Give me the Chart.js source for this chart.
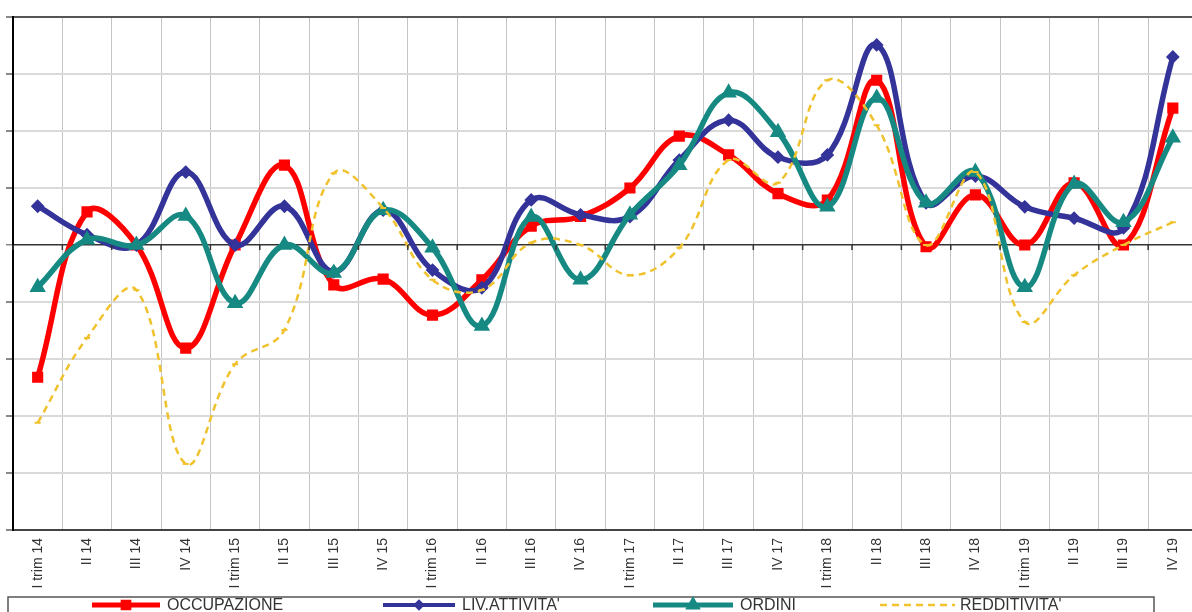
<!DOCTYPE html>
<html><head><meta charset="utf-8">
<script src="https://cdn.jsdelivr.net/npm/chart.js@4.4.1/dist/chart.umd.min.js"></script>
<style>html,body{margin:0;padding:0;background:#fff;overflow:hidden}#wrap{width:1207px;height:612px;position:relative}</style>
</head><body><div id="wrap"><canvas id="c"></canvas></div>
<script>
const categories = ["I trim 14","II 14","III 14","IV 14","I trim 15","II 15","III 15","IV 15","I trim 16","II 16","III 16","IV 16","I trim 17","II 17","III 17","IV 17","I trim 18","II 18","III 18","IV 18","I trim 19","II 19","III 19","IV 19"];
const occupazione = [-23.2, 5.8, 0, -18.1, 0, 14, -7, -6, -12.3, -6.1, 3.3, 5, 10, 19.1, 15.8, 9, 7.9, 28.9, -0.3, 8.8, 0, 10.9, 0, 24];
const livAttivita = [6.8, 1.8, 0, 12.8, 0, 6.8, -4.7, 6.1, -4.4, -7.5, 7.9, 5.3, 5, 14.9, 21.9, 15.4, 15.8, 35.1, 7.4, 12.1, 6.7, 4.7, 3, 33];
const ordini = [-7.4, 0.9, 0, 5.1, -10.2, 0, -4.9, 6.1, -0.5, -14.2, 4.9, -6.1, 5.3, 14, 26.7, 19.8, 6.7, 25.8, 7.4, 12.8, -7.4, 10.7, 4, 18.8];
const redditivita = [-31.2, -16.3, -7.9, -38.4, -20.9, -14.9, 12.6, 6.5, -6.1, -7.9, 0.4, 0, -5.3, -0.5, 14.9, 10.9, 28.9, 21, 0, 12.8, -13.5, -5.3, 0, 4];
const seriesNames = ["OCCUPAZIONE", "LIV.ATTIVITA'", "ORDINI", "REDDITIVITA'"];
const yMin = -50, yMax = 40, yStep = 10;

const colors = ['#ff0000', '#333399', '#168a82', '#f0c22e'];

const extras = {
  id: 'extras',
  afterDraw(chart) {
    const ctx = chart.ctx, xs = chart.scales.x, ys = chart.scales.y;
    const y0 = ys.getPixelForValue(0);
    ctx.save();
    ctx.strokeStyle = '#333'; ctx.lineWidth = 1.5;
    for (let i = 0; i <= categories.length; i++) {
      const x = xs.getPixelForValue(i - 0.5);
      ctx.beginPath(); ctx.moveTo(x, y0); ctx.lineTo(x, y0 + 5); ctx.stroke();
    }
    // legend box
    ctx.strokeStyle = '#555'; ctx.lineWidth = 1.5;
    ctx.strokeRect(8, 597, 1146, 30);
    const items = [
      {x1: 92, x2: 160, tx: 167, w: 5, dash: [], style: 'rect', r: 4},
      {x1: 383, x2: 455, tx: 462, w: 4, dash: [], style: 'rectRot', r: 3},
      {x1: 653, x2: 733, tx: 740, w: 5, dash: [], style: 'triangle', r: 4},
      {x1: 880, x2: 955, tx: 960, w: 2.5, dash: [7, 5], style: null}
    ];
    items.forEach((it, i) => {
      const ly = 605;
      ctx.strokeStyle = colors[i]; ctx.lineWidth = it.w; ctx.setLineDash(it.dash);
      ctx.beginPath(); ctx.moveTo(it.x1, ly); ctx.lineTo(it.x2, ly); ctx.stroke();
      ctx.setLineDash([]);
      if (it.style) {
        ctx.fillStyle = colors[i];
        ctx.strokeStyle = colors[i];
        Chart.helpers.drawPoint(ctx, {pointStyle: it.style, radius: it.r, borderWidth: 1, rotation: 0}, (it.x1 + it.x2) / 2, ly);
      }
      ctx.fillStyle = '#333';
      ctx.font = '16px "Liberation Sans", Arial, sans-serif';
      ctx.textBaseline = 'top';
      ctx.fillText(seriesNames[i], it.tx, 598);
    });
    ctx.restore();
  }
};

const mk = (label, data, i, opts) => Object.assign({
  label, data, borderColor: colors[i], backgroundColor: colors[i],
  tension: 0.4, fill: false, pointBorderColor: colors[i], pointBackgroundColor: colors[i]
}, opts);

new Chart(document.getElementById('c'), {
  type: 'line',
  data: {
    labels: categories,
    datasets: [
      mk(seriesNames[0], occupazione, 0, {borderWidth: 5.5, pointStyle: 'rect', pointRadius: 4, order: 4}),
      mk(seriesNames[1], livAttivita, 1, {borderWidth: 5.5, pointStyle: 'rectRot', pointRadius: 3, order: 3}),
      mk(seriesNames[2], ordini, 2, {borderWidth: 5.5, pointStyle: 'triangle', pointRadius: 4, order: 2}),
      mk(seriesNames[3], redditivita, 3, {borderWidth: 2.5, borderDash: [7, 5], pointStyle: 'line', pointRadius: 3, pointBorderWidth: 2, order: 1})
    ]
  },
  options: {
    responsive: true, maintainAspectRatio: false, animation: false,
    events: [],
    layout: {padding: {left: 6, top: 17, right: 0, bottom: 0}},
    plugins: {legend: {display: false}, tooltip: {enabled: false}},
    scales: {
      x: {
        offset: true,
        grid: {offset: true, color: '#c4c4c4', lineWidth: 1, drawTicks: false},
        border: {display: true, color: '#444', width: 2},
        ticks: {maxRotation: 90, minRotation: 90, autoSkip: false, padding: 8, color: '#333',
                font: {size: 14, family: '"Liberation Sans", Arial, sans-serif'}},
        afterFit: s => { s.height = 82; }
      },
      y: {
        min: yMin, max: yMax,
        ticks: {stepSize: yStep, display: false},
        grid: {
          color: c => c.tick.value === 0 ? '#333' : (c.tick.value === yMax ? '#555' : '#dadada'),
          lineWidth: c => c.tick.value === 0 ? 1.5 : 2,
          drawTicks: true, tickLength: 7, tickColor: '#888'
        },
        border: {display: true, color: '#000', width: 2},
        afterFit: s => { s.width = 7; }
      }
    }
  },
  plugins: [extras]
});
</script></body></html>
